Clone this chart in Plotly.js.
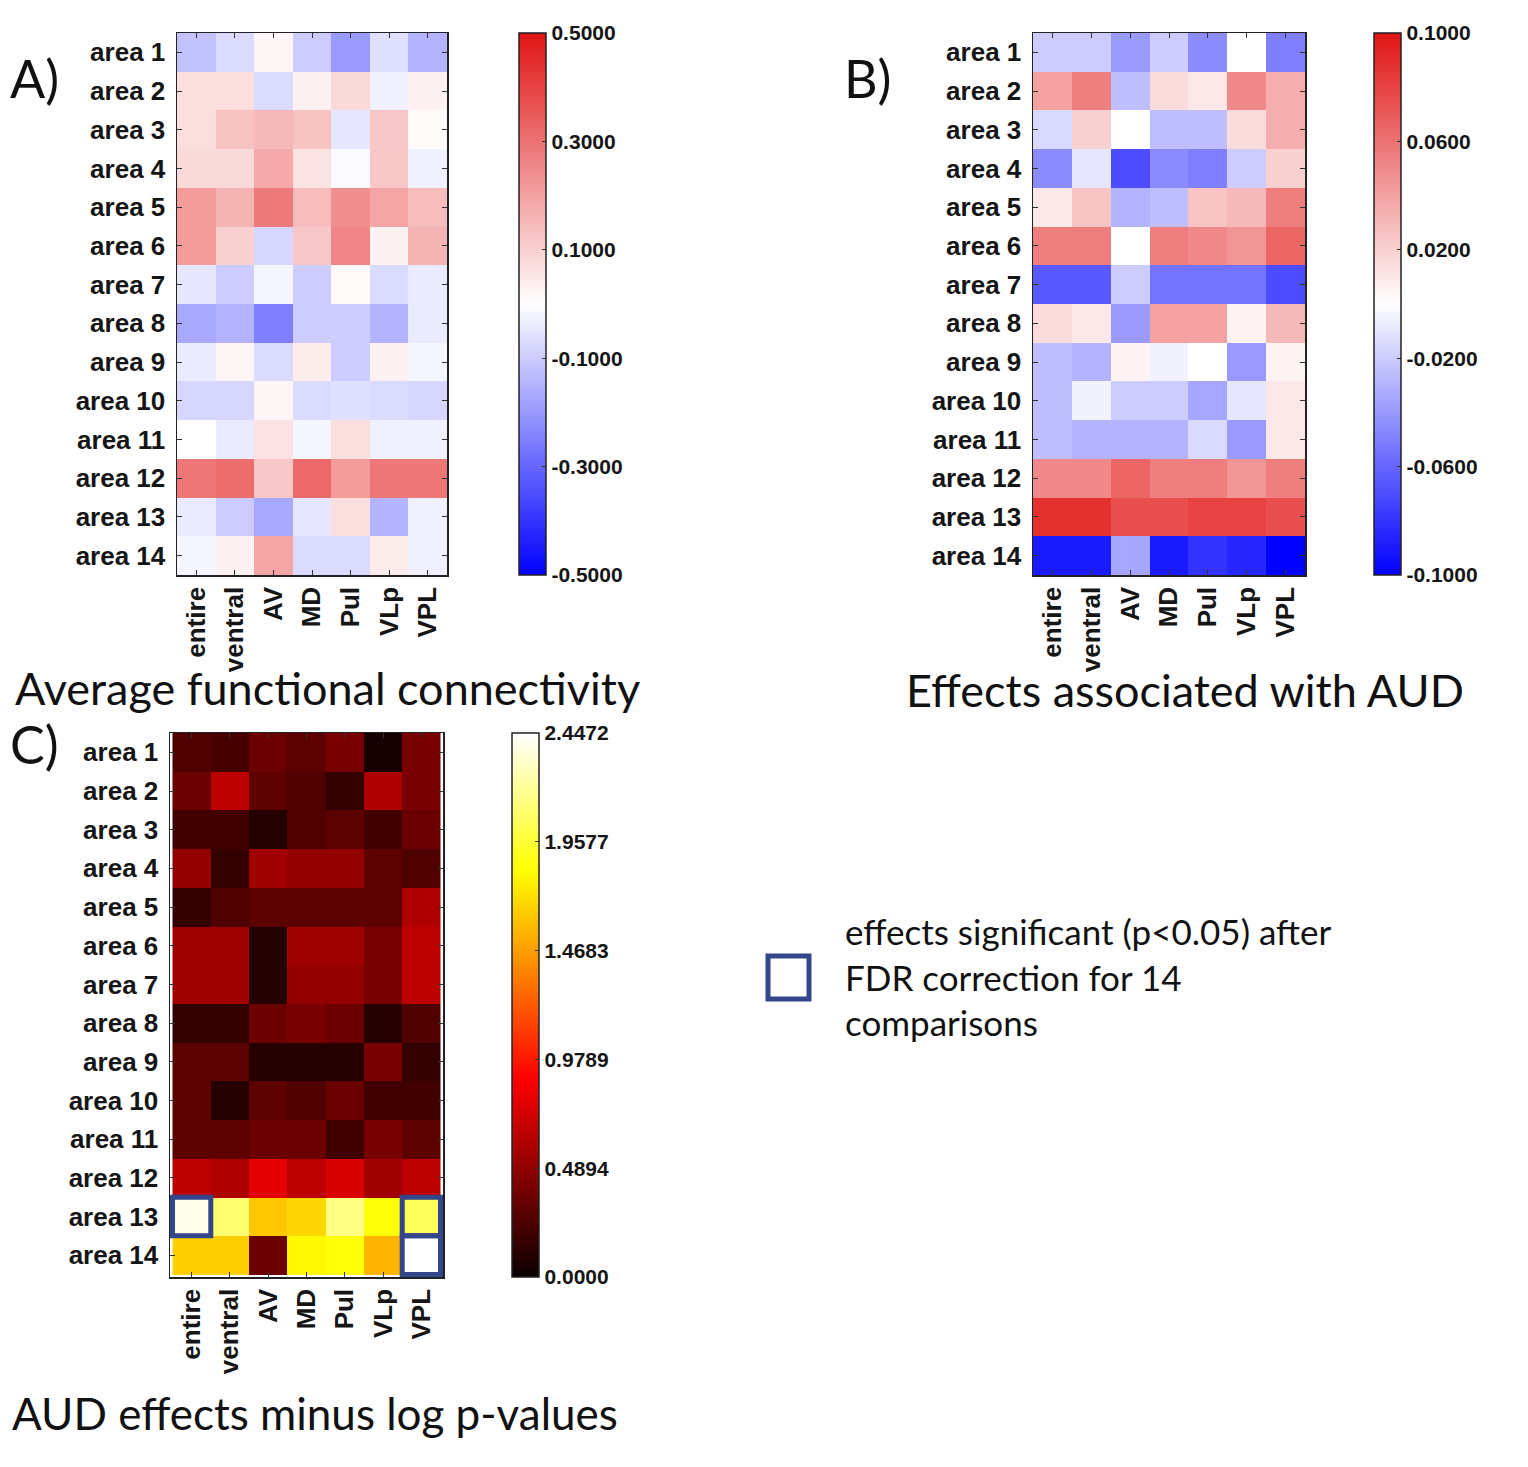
<!DOCTYPE html>
<html>
<head>
<meta charset="utf-8">
<script src="https://cdn.plot.ly/plotly-3.0.1.min.js"></script>
<style>
html,body{margin:0;padding:0;background:#fff;}
#chart{width:1528px;height:1467px;}
</style>
</head>
<body>
<div id="chart"></div>
<script>
// ---------- data ----------
const areas = ['area 1','area 2','area 3','area 4','area 5','area 6','area 7',
               'area 8','area 9','area 10','area 11','area 12','area 13','area 14'];
const regions = ['entire','ventral','AV','MD','Pul','VLp','VPL'];

// A) Average functional connectivity (rows = areas, cols = regions)
const avgConnectivity = [
  [-0.12,-0.07, 0.02,-0.10,-0.20,-0.06,-0.15],
  [ 0.07, 0.07,-0.07, 0.03, 0.08,-0.03, 0.03],
  [ 0.07, 0.13, 0.15, 0.13,-0.05, 0.12, 0.01],
  [ 0.08, 0.08, 0.18, 0.06,-0.01, 0.12,-0.03],
  [ 0.21, 0.16, 0.28, 0.14, 0.24, 0.19, 0.14],
  [ 0.21, 0.10,-0.08, 0.12, 0.26, 0.03, 0.16],
  [-0.05,-0.10,-0.02,-0.10, 0.01,-0.07,-0.04],
  [-0.17,-0.15,-0.25,-0.10,-0.10,-0.15,-0.04],
  [-0.04, 0.02,-0.07, 0.04,-0.10, 0.03,-0.02],
  [-0.08,-0.08, 0.02,-0.07,-0.06,-0.07,-0.08],
  [ 0.00,-0.04, 0.06,-0.02, 0.07,-0.03,-0.03],
  [ 0.29, 0.31, 0.12, 0.32, 0.21, 0.29, 0.29],
  [-0.04,-0.10,-0.17,-0.05, 0.07,-0.15,-0.03],
  [-0.02, 0.03, 0.19,-0.07,-0.07, 0.04,-0.03]
];

// B) Effects associated with AUD
const audEffects = [
  [-0.020,-0.020,-0.040,-0.020,-0.045, 0.000,-0.050],
  [ 0.040, 0.055,-0.025, 0.015, 0.010, 0.050, 0.035],
  [-0.015, 0.020, 0.000,-0.025,-0.025, 0.015, 0.035],
  [-0.045,-0.010,-0.070,-0.045,-0.050,-0.020, 0.020],
  [ 0.010, 0.025,-0.030,-0.025, 0.025, 0.030, 0.055],
  [ 0.055, 0.055, 0.000, 0.055, 0.050, 0.045, 0.065],
  [-0.065,-0.065,-0.020,-0.055,-0.055,-0.055,-0.070],
  [ 0.015, 0.010,-0.040, 0.040, 0.040, 0.005, 0.030],
  [-0.025,-0.030, 0.005,-0.005, 0.000,-0.040, 0.005],
  [-0.025,-0.005,-0.020,-0.020,-0.035,-0.010, 0.010],
  [-0.025,-0.030,-0.030,-0.030,-0.015,-0.040, 0.010],
  [ 0.050, 0.050, 0.065, 0.055, 0.055, 0.045, 0.055],
  [ 0.088, 0.088, 0.075, 0.075, 0.080, 0.080, 0.075],
  [-0.090,-0.090,-0.035,-0.090,-0.080,-0.085,-0.100]
];

// C) AUD effects minus log p-values
const audMinusLogP = [
  [0.25,0.22,0.35,0.30,0.40,0.05,0.40],
  [0.35,0.65,0.30,0.25,0.15,0.60,0.40],
  [0.20,0.20,0.10,0.25,0.30,0.20,0.35],
  [0.50,0.15,0.55,0.50,0.50,0.30,0.25],
  [0.15,0.25,0.30,0.30,0.30,0.30,0.60],
  [0.55,0.55,0.10,0.55,0.55,0.40,0.65],
  [0.55,0.55,0.10,0.50,0.50,0.40,0.65],
  [0.15,0.15,0.35,0.40,0.35,0.10,0.25],
  [0.30,0.30,0.10,0.10,0.10,0.40,0.15],
  [0.30,0.10,0.30,0.25,0.35,0.20,0.20],
  [0.30,0.30,0.35,0.35,0.20,0.40,0.30],
  [0.65,0.60,0.80,0.65,0.75,0.55,0.65],
  [2.40,2.10,1.62,1.68,2.15,1.85,2.05],
  [1.65,1.65,0.35,1.80,1.85,1.55,2.4472]
];

// significant cells (p<0.05 after FDR)
const significantCells = [['area 13','entire'],['area 13','VPL'],['area 14','VPL']];

const ticksA = [-0.5,-0.3,-0.1,0.1,0.3,0.5];
const ticksB = [-0.1,-0.06,-0.02,0.02,0.06,0.1];
const maxC = 2.4472;
const ticksC = [0, 0.4894, 0.9789, 1.4683, 1.9577, 2.4472];
const ticksCText = ['0.0000','0.4894','0.9789','1.4683','1.9577','2.4472'];

// ---------- styling / layout ----------
const W = 1528, H = 1467;
const px = v => v / W;
const py = v => 1 - v / H;

const bwr = [[0,'rgb(0,0,255)'],[0.5,'rgb(255,255,255)'],[1,'rgb(225,20,20)']];
const hot = [[0,'rgb(10,0,0)'],[0.365,'rgb(255,0,0)'],[0.746,'rgb(255,255,0)'],[1,'rgb(255,255,255)']];

const tickFont = {family:'Liberation Sans, Arial, sans-serif', size:26, color:'#151515', weight:'bold'};
const cbFont = {family:'Liberation Sans, Arial, sans-serif', size:21, color:'#151515', weight:'bold'};
const bigFont = {family:'Lato, Carlito, sans-serif', size:45, color:'#111'};

function cbar(xLeft, yTop, yBot, vals, texts){
  return {
    x: px(xLeft), xanchor:'left', xpad:0,
    y: py((yTop+yBot)/2), yanchor:'middle', ypad:0,
    len: yBot - yTop, lenmode:'pixels',
    thickness: 27, thicknessmode:'pixels',
    outlinewidth:1.5, outlinecolor:'#222',
    tickvals: vals, ticktext: texts,
    ticks:'inside', ticklen:4, tickcolor:'#333',
    tickfont: cbFont
  };
}

const traces = [
  {type:'heatmap', x:regions, y:areas, z:avgConnectivity, xaxis:'x', yaxis:'y',
   colorscale:bwr, zmin:-0.5, zmax:0.5,
   colorbar: cbar(519, 33, 575, ticksA, ticksA.map(v=>v.toFixed(4)))},
  {type:'heatmap', x:regions, y:areas, z:audEffects, xaxis:'x2', yaxis:'y2',
   colorscale:bwr, zmin:-0.1, zmax:0.1,
   colorbar: cbar(1374, 33, 575, ticksB, ticksB.map(v=>v.toFixed(4)))},
  {type:'heatmap', x:regions, y:areas, z:audMinusLogP, xaxis:'x3', yaxis:'y3',
   colorscale:hot, zmin:0, zmax:maxC,
   colorbar: cbar(512, 733, 1277, ticksC, ticksCText)}
];

function xax(d0,d1,anchor){
  return {domain:[px(d0),px(d1)], anchor:anchor, tickangle:-90, tickfont:tickFont,
    showline:true, mirror:'allticks', linecolor:'#222', linewidth:1.5,
    ticks:'inside', ticklen:5, tickcolor:'#333', showgrid:false, zeroline:false, fixedrange:true};
}
function yax(t,b,anchor){
  return {domain:[py(b),py(t)], anchor:anchor, autorange:'reversed', tickfont:tickFont,
    ticklabelstandoff:5,
    showline:true, mirror:'allticks', linecolor:'#222', linewidth:1.5,
    ticks:'inside', ticklen:5, tickcolor:'#333', showgrid:false, zeroline:false, fixedrange:true};
}

const shapes = significantCells.map(([a,r]) => {
  const yi = areas.indexOf(a), xi = regions.indexOf(r);
  return {type:'rect', xref:'x3', yref:'y3', x0:xi-0.5, x1:xi+0.5, y0:yi-0.5, y1:yi+0.5,
          line:{color:'#34468a', width:5}, fillcolor:'rgba(0,0,0,0)'};
});
// legend square
shapes.push({type:'rect', xref:'paper', yref:'paper', x0:px(768), x1:px(809), y0:py(999), y1:py(956),
             line:{color:'#34468a', width:5}, fillcolor:'rgba(0,0,0,0)'});

const annotations = [
  {text:'A)', x:px(8), y:py(78), xanchor:'left', yanchor:'middle', font:{...bigFont, size:52}},
  {text:'B)', x:px(842), y:py(78), xanchor:'left', yanchor:'middle', font:{...bigFont, size:52}},
  {text:'C)', x:px(8), y:py(744), xanchor:'left', yanchor:'middle', font:{...bigFont, size:52}},
  {text:'Average functional connectivity', x:px(327), y:py(688), xanchor:'center', yanchor:'middle', font:bigFont},
  {text:'Effects associated with AUD', x:px(1185), y:py(690), xanchor:'center', yanchor:'middle', font:bigFont},
  {text:'AUD effects minus log p-values', x:px(10), y:py(1413), xanchor:'left', yanchor:'middle', font:{...bigFont, size:44}},
  {text:'effects significant (p<0.05) after<br>FDR correction for 14<br>comparisons', x:px(843), y:py(908),
   xanchor:'left', yanchor:'top', align:'left', font:{family:'Lato, Carlito, sans-serif', size:35, color:'#111'}}
];
annotations.forEach(a => { a.xref='paper'; a.yref='paper'; a.showarrow=false; });

const layout = {
  width:W, height:H, margin:{l:0,r:0,t:0,b:0},
  paper_bgcolor:'#fff', plot_bgcolor:'#fff', showlegend:false,
  xaxis: xax(177,447,'y'), yaxis: yax(33,575,'x'),
  xaxis2: xax(1033,1305,'y2'), yaxis2: yax(33,575,'x2'),
  xaxis3: xax(170,443,'y3'), yaxis3: yax(733,1277,'x3'),
  shapes: shapes, annotations: annotations
};

Plotly.newPlot('chart', traces, layout, {displayModeBar:false, staticPlot:true});
</script>
</body>
</html>
